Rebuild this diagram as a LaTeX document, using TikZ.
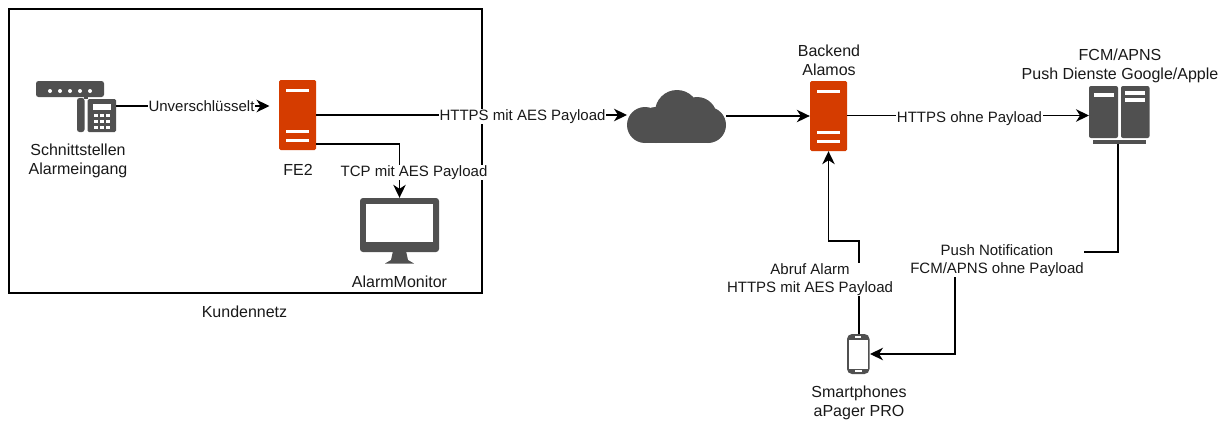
\documentclass[tikz,border=0pt]{standalone}
\usepackage{fontspec}
\setmainfont{Liberation Sans}
\usetikzlibrary{arrows.meta,calc}
\definecolor{icongrey}{HTML}{505050}
\definecolor{serverred}{HTML}{D53C00}
\tikzset{
  x=1pt,y=-1pt,
  txt/.style={font=\fontsize{16}{19}\selectfont,align=center,inner sep=0pt,text=black!90},
  lbl/.style={font=\fontsize{15}{17.5}\selectfont,align=center,inner sep=0pt,text=black!90,fill=white,inner xsep=0.5pt,inner ysep=1pt},
  conn/.style={draw=black,line width=1.2pt,-{Stealth[length=13pt,width=12.5pt,inset=4pt]}},
  plainline/.style={draw=black,line width=1.2pt},
  server/.style={fill=serverred,draw=none,inner sep=0pt,minimum width=37pt,minimum height=70pt,rounded corners=1.5pt},
  holder/.style={inner sep=0pt,draw=none},
  stripe/.style={fill=white,draw=none},
  icon/.style={fill=icongrey,draw=none},
}
\begin{document}
\begin{tikzpicture}
\useasboundingbox (0,0) rectangle (1225,423);
\fill[white] (0,0) rectangle (1225,423);
% customer network
\node[holder,draw=black,line width=1.2pt,minimum width=473pt,minimum height=284pt] (netz) at (245.5,151) {};
\node[txt] (netzlabel) at (244.5,311.5) {Kundennetz};

% servers
\node[server] (fe2) at (297.5,115) {};
\node[server] (backend) at (828.5,116) {};
\foreach \n/\cx/\cy in {fe2/297.5/115,backend/828.5/116}{
  \foreach \dy in {-25,16,25}{
    \fill[stripe] (\cx-11.5,\cy+\dy-1.5) rectangle (\cx+11.5,\cy+\dy+1.5);
  }
}
\node[txt] (fe2label) at (298,169.5) {FE2};
\node[txt] (backendlabel) at (829,60) {Backend\\Alamos};

% telephone interface icon
\node[holder,minimum width=80pt,minimum height=51pt] (phoneicon) at (76,106.5) {};
\fill[icon,rounded corners=2.5pt] (36,97) -- (36,81) -- (104,81) -- (104,97) -- cycle;
\foreach \i in {50,60,70,80,90}{\fill[white] (\i,91) circle (2);}
\fill[icon] (84,95.5) rectangle (88,99);
\fill[icon,rounded corners=2.5pt] (77,98) rectangle (84.5,132);
\fill[icon,rounded corners=1.5pt] (87.5,99) rectangle (116,132);
\fill[white] (93,103.5) rectangle (110.5,110);
\foreach \kx in {94,100,106}{\foreach \ky in {114,120,126}{
  \fill[white] (\kx,\ky) rectangle (\kx+4,\ky+3);
}}
\node[txt] (phonelabel) at (78,161) {Schnittstellen\\Alarmeingang};

% monitor icon
\node[holder,minimum width=79pt,minimum height=66pt] (monitor) at (399.5,231) {};
\fill[icon,rounded corners=3pt] (360,198) rectangle (439,252);
\fill[white] (366,203.5) rectangle (433,242);
\fill[icon] (393,251) -- (406,251) -- (408,260) -- (414,263.5) -- (385,263.5) -- (391,260) -- cycle;
\node[txt] (monitorlabel) at (399.5,281.5) {AlarmMonitor};

% cloud icon
\node[holder,minimum width=99pt,minimum height=53pt] (cloud) at (676.5,116.5) {};
\fill[icon] (645,125) circle (18) (708,125) circle (18) (656,125) circle (18)
            (677,112) circle (22) (697,117) circle (20);
\fill[icon] (645,125) rectangle (708,143);

% FCM/APNS server icon
\node[holder,minimum width=60pt,minimum height=58pt] (fcm) at (1119,115) {};
\fill[icon,rounded corners=2pt] (1089,86) rectangle (1118,138);
\fill[icon,rounded corners=2pt] (1121,86) rectangle (1149.5,138);
\fill[white] (1094,93) rectangle (1114,97);
\fill[white] (1125,91) rectangle (1145,95);
\fill[white] (1125,98) rectangle (1145,102);
\fill[icon] (1093,140) rectangle (1146,143.5);
\node[txt] (fcmlabel) at (1120,66) {FCM/APNS\\Push Dienste Google/Apple};

% smartphone icon
\node[holder,minimum width=22pt,minimum height=40pt] (smart) at (858,354) {};
\fill[icon,rounded corners=5pt] (847,334) rectangle (869.5,374);
\fill[white] (849,340) rectangle (867.5,368.5);
\fill[white] (855,336.3) rectangle (861,337.8);
\fill[white] (855,370) rectangle (862,372.3);
\node[txt] (smartlabel) at (859,403) {Smartphones\\aPager PRO};

% connectors
\coordinate (fe2mid) at (316,115);
\coordinate (cloudW) at (627,115);
\coordinate (fe2low) at (316,144);
\coordinate (fcmbar) at (1118,143.5);
\coordinate (pushA) at (955,252);
\coordinate (smartN) at (859,334);
\coordinate (smartE) at (870,354);
\coordinate (abruf) at (828.5,241);
\coordinate (phoneE) at (116,106);
\coordinate (fe2W) at (269.5,106);
\coordinate (cloudE) at (726,116);
\coordinate (backE) at (847,115.5);
\coordinate (fcmW) at (1089,115.5);
\draw[conn] (phoneE) -- (fe2W);
\draw[conn] (fe2mid) -- (cloudW);
\draw[conn] (fe2low) -| (monitor.north);
\draw[conn] (cloudE) -- (backend.west);
\draw[conn] (backE) -- (fcmW);
\draw[plainline] (fcmbar) |- (pushA);
\draw[conn] (pushA) |- (smartE);
\draw[conn] (smartN) |- (abruf) -- (backend.south);

% connector labels
\node[lbl] (l1) at (201.5,106.5) {Unverschlüsselt};
\node[lbl] (l2) at (522.5,116.5) {HTTPS mit AES Payload};
\node[lbl] (l3) at (414,172.5) {TCP mit AES Payload};
\node[lbl] (l4) at (969.5,118.5) {HTTPS ohne Payload};
\node[lbl] (l5) at (997,260.5) {Push Notification\\FCM/APNS ohne Payload};
\node[lbl] (l6) at (810,279.5) {Abruf Alarm\\HTTPS mit AES Payload};
\end{tikzpicture}
\end{document}
